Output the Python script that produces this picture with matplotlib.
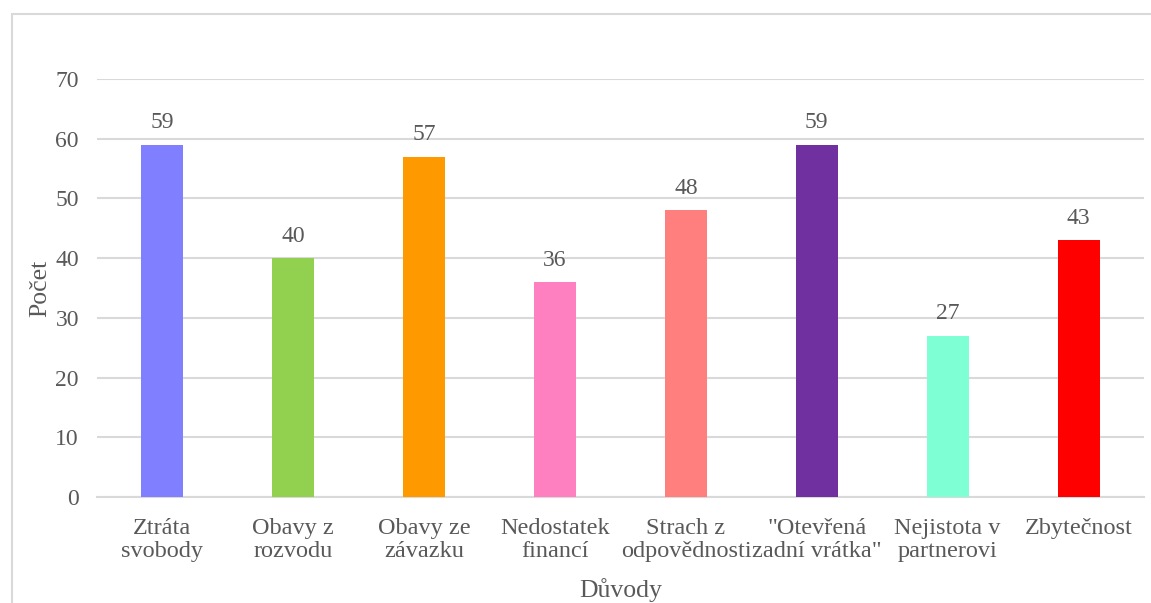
import matplotlib
matplotlib.use("Agg")
import matplotlib.pyplot as plt
from matplotlib.patches import Rectangle

# Data
categories = ["Ztráta\nsvobody", "Obavy z\nrozvodu", "Obavy ze\nzávazku", "Nedostatek\nfinancí",
              "Strach z\nodpovědnosti", "\"Otevřená\nzadní vrátka\"", "Nejistota v\npartnerovi", "Zbytečnost"]
values = [59, 40, 57, 36, 48, 59, 27, 43]
colors = ["#7F7FFF", "#92D050", "#FF9900", "#FF80C0", "#FF7F7F", "#7030A0", "#7FFFD4", "#FF0000"]

FONT = "Liberation Serif"
plt.rcParams['font.family'] = [FONT, 'DejaVu Serif']
txt = "#595959"
grid = "#D9D9D9"

fig = plt.figure(figsize=(11.51, 6.03), dpi=100)
fig.patches.append(Rectangle((12/1151, -0.1), 1.2, 1 - 14/603 + 0.1, transform=fig.transFigure,
                             fill=False, edgecolor=grid, linewidth=1.5))
ax = fig.add_axes([97/1151, (603-497)/603, (1144-97)/1151, (497-79)/603])

x = range(len(categories))
ax.bar(x, values, width=0.32, color=colors, zorder=3)
for xi, v in zip(x, values):
    ax.text(xi, v + 1.9, str(v), ha="center", va="bottom", fontsize=17, color=txt, family=FONT)

ax.set_xlim(-0.5, len(categories) - 0.5)
ax.set_ylim(0, 70)
ax.set_yticks(range(0, 71, 10))
ax.set_yticklabels([str(t) for t in range(0, 71, 10)], family=FONT, fontsize=17, color=txt)
ax.set_xticks(list(x))
ax.set_xticklabels(categories, family=FONT, fontsize=17.5, color=txt, linespacing=1.15)
ax.tick_params(axis="y", length=0, pad=13)
ax.tick_params(axis="x", length=0, pad=15)
ax.yaxis.grid(True, color=grid, linewidth=1.5, zorder=0)
for s in ["top", "right", "left"]:
    ax.spines[s].set_visible(False)
ax.spines["bottom"].set_color(grid)
ax.spines["bottom"].set_linewidth(1.5)

ax.set_ylabel("Počet", family=FONT, fontsize=18.5, color=txt)
ax.yaxis.set_label_coords(-(97-40)/1047, 0.5)
ax.set_xlabel("Důvody", family=FONT, fontsize=18.5, color=txt)
ax.xaxis.set_label_coords(0.5, -(590-497)/418)
ax.xaxis.label.set_va("center")
ax.yaxis.label.set_va("center")

fig.savefig("out.png", dpi=100)
